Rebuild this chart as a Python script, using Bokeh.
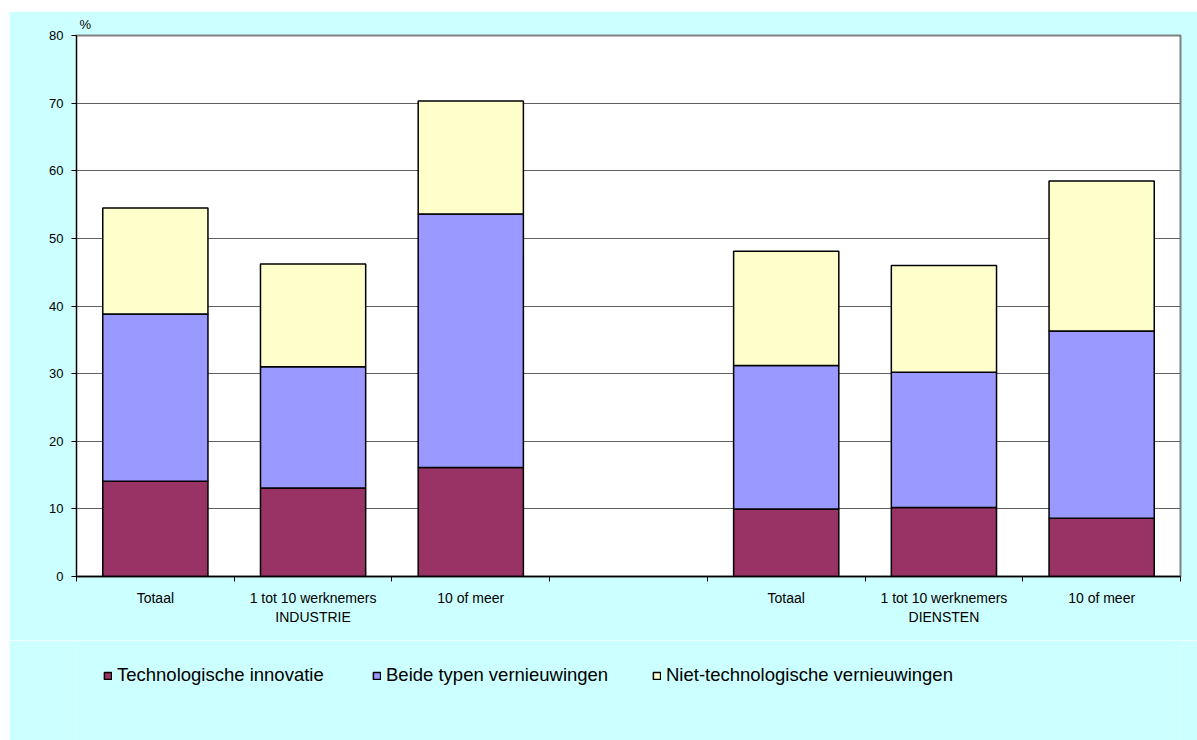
from bokeh.plotting import figure
from bokeh.models import (Range1d, FixedTicker, Legend, LegendItem, ColumnDataSource, Spacer)
from bokeh.layouts import column, row
from bokeh.embed import file_html
from bokeh.resources import INLINE

# ---- data ----
groups = ["INDUSTRIE", "DIENSTEN"]
sizes = ["Totaal", "1 tot 10 werknemers", "10 of meer"]
series = ["Technologische innovatie", "Beide typen vernieuwingen", "Niet-technologische vernieuwingen"]
# order: INDUSTRIE (Totaal, 1-10, 10+), DIENSTEN (Totaal, 1-10, 10+)
tech = [14.1, 13.1, 16.1, 10.0, 10.2, 8.6]
beide = [24.7, 17.9, 37.5, 21.2, 20.0, 27.7]
niet = [15.7, 15.2, 16.7, 16.9, 15.8, 22.2]
colors = ["#993366", "#9999FF", "#FFFFCC"]
yticks = [0, 10, 20, 30, 40, 50, 60, 70, 80]

FONT = "Liberation Sans"
BG = "#CCFFFF"

# slot positions: 3 bars, one empty slot, 3 bars
xs = []
labels = {}
slot = 0
for gi, g in enumerate(groups):
    for si, s in enumerate(sizes):
        c = slot + 0.5
        xs.append(c)
        labels[c] = s + ("\n" + g if si == 1 else "")
        slot += 1
    if gi == 0:
        slot += 1
nslots = slot

b1 = [0] * len(tech)
t1 = [a for a in tech]
t2 = [a + b for a, b in zip(t1, beide)]
t3 = [a + b for a, b in zip(t2, niet)]
src = ColumnDataSource(dict(x=xs, b1=b1, t1=t1, t2=t2, t3=t3))

W = 1188
p = figure(width=W, height=629, x_range=Range1d(0, nslots), y_range=Range1d(0, 80),
           output_backend="svg", toolbar_location=None,
           min_border_left=67, min_border_right=17, min_border_top=23, min_border_bottom=64)
p.border_fill_color = BG
p.background_fill_color = "white"
p.outline_line_color = "#808080"
p.outline_line_width = 2

bar_kw = dict(width=0.667, source=src, line_color="black", line_width=1.5)
p.vbar(x="x", bottom="b1", top="t1", fill_color=colors[0], **bar_kw)
p.vbar(x="x", bottom="t1", top="t2", fill_color=colors[1], **bar_kw)
p.vbar(x="x", bottom="t2", top="t3", fill_color=colors[2], **bar_kw)

# "%" unit label above the y axis
p.title.text = "%"
p.title.align = "left"
p.title.offset = 3
p.title.standoff = 7
p.title.text_font = FONT
p.title.text_font_size = "13px"
p.title.text_font_style = "normal"
p.title.text_color = "black"

# grid
p.xgrid.grid_line_color = None
p.ygrid.ticker = FixedTicker(ticks=yticks)
p.ygrid.grid_line_color = "#606060"
p.ygrid.grid_line_width = 1

# y axis
ya = p.yaxis[0]
ya.ticker = FixedTicker(ticks=yticks)
ya.axis_line_color = "black"
ya.major_tick_out = 5
ya.major_tick_in = 0
ya.minor_tick_line_color = None
ya.major_label_standoff = 8
ya.major_label_text_font = FONT
ya.major_label_text_font_size = "13px"
ya.major_label_text_color = "black"

# x axis
xa = p.xaxis[0]
xa.ticker = FixedTicker(ticks=xs, minor_ticks=list(range(0, nslots + 1)))
xa.major_label_overrides = labels
xa.major_tick_out = 0
xa.major_tick_in = 0
xa.minor_tick_out = 5
xa.minor_tick_in = 0
xa.minor_tick_line_color = "black"
xa.axis_line_color = "black"
xa.axis_line_width = 1.5
xa.major_label_standoff = 8
xa.major_label_text_font = FONT
xa.major_label_text_font_size = "14px"
xa.major_label_text_color = "black"

# legend strip below the chart (its frame is aligned with the chart frame)
pl = figure(width=W, height=100, x_range=Range1d(0, 1), y_range=Range1d(0, 1),
            output_backend="svg", toolbar_location=None,
            min_border_left=0, min_border_right=0, min_border_top=0, min_border_bottom=0)
pl.axis.visible = False
pl.grid.visible = False
pl.outline_line_color = None
pl.background_fill_color = BG
pl.border_fill_color = BG
for name, col, vx in zip(series, colors, [27, 296, 576]):
    r = pl.quad(left=[-5], right=[-4], bottom=[-5], top=[-4], fill_color=col,
                line_color="black", line_width=1.5)
    lg = Legend(items=[LegendItem(label=name, renderers=[r])], location=(vx, 54),
                orientation="horizontal", padding=0, margin=0, border_line_color=None,
                background_fill_alpha=0, glyph_width=9, glyph_height=9, label_standoff=5,
                label_text_font=FONT, label_text_font_size="18.5px", label_text_color="black")
    pl.add_layout(lg, "center")

layout = row(Spacer(width=9, height=740),
             column(Spacer(width=W, height=11), p, pl, spacing=0), spacing=0)

open("out.html", "w").write(file_html(layout, INLINE))
